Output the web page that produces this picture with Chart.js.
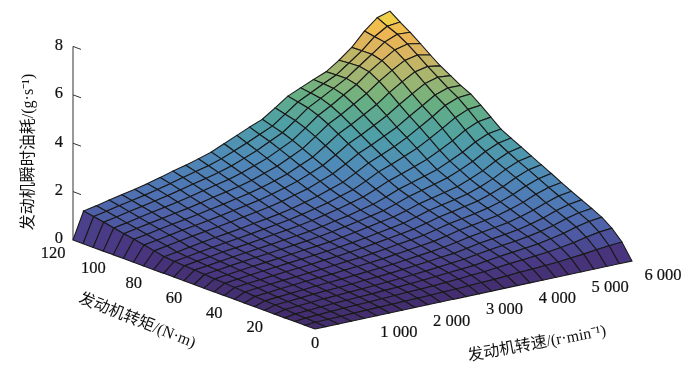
<!DOCTYPE html>
<html>
<head>
<meta charset="utf-8">
<style>
html,body{margin:0;padding:0;background:#fff}
#wrap{width:700px;height:373px}
</style>
<script src="https://cdn.jsdelivr.net/npm/chart.js@4"></script>
</head>
<body>
<div id="wrap"><canvas id="myChart" width="700" height="373"></canvas></div>
<script>
const speeds = [0,200,442,683,925,1167,1408,1650,1892,2133,2375,2617,2858,3100,3342,3583,3825,4067,4308,4550,4792,5033,5275,5517,5758,6000];
const torques = [0,5,10,15,20,25,30,35,40,45,50,55,60,65,70,75,80,85,90,95,100,105,110,115,120];
// fuel rate, one row per torque
const fuel = [
[0,0,0,0,0,0,0,0,0,0,0,0,0,0,0,0,0,0,0,0,0,0,0,0,0,0],
[0,.03,.04,.05,.07,.08,.09,.10,.11,.12,.13,.15,.16,.18,.20,.22,.25,.29,.31,.34,.37,.42,.47,.54,.59,.63],
[0,.05,.07,.10,.12,.14,.15,.17,.19,.21,.23,.25,.28,.31,.35,.38,.43,.49,.53,.58,.63,.70,.79,.90,1.00,1.05],
[0,.07,.10,.13,.16,.18,.20,.22,.25,.27,.30,.33,.37,.41,.45,.49,.56,.63,.69,.75,.81,.91,1.02,1.17,1.29,1.35],
[0,.10,.13,.16,.20,.22,.25,.27,.30,.33,.36,.40,.44,.49,.54,.59,.67,.75,.82,.88,.96,1.06,1.19,1.36,1.49,1.56],
[0,.13,.16,.20,.24,.27,.29,.32,.36,.39,.42,.47,.52,.57,.63,.68,.77,.87,.94,1.01,1.09,1.21,1.35,1.54,1.68,1.76],
[0,.15,.19,.23,.27,.31,.34,.37,.41,.45,.49,.53,.59,.65,.71,.78,.87,.98,1.06,1.14,1.23,1.36,1.52,1.71,1.88,1.96],
[0,.18,.22,.27,.31,.35,.39,.42,.47,.51,.55,.60,.67,.73,.80,.87,.98,1.10,1.19,1.28,1.37,1.52,1.69,1.91,2.08,2.17],
[0,.21,.26,.30,.35,.39,.43,.47,.52,.57,.61,.67,.74,.82,.89,.97,1.09,1.22,1.31,1.41,1.52,1.67,1.86,2.10,2.29,2.39],
[0,.24,.29,.34,.39,.44,.48,.52,.58,.62,.68,.74,.82,.90,.98,1.07,1.20,1.34,1.44,1.55,1.66,1.83,2.03,2.29,2.50,2.60],
[0,.26,.32,.38,.43,.48,.53,.58,.63,.68,.74,.81,.89,.98,1.07,1.16,1.30,1.46,1.57,1.68,1.80,1.98,2.20,2.48,2.70,2.81],
[0,.29,.35,.41,.47,.52,.57,.63,.69,.74,.80,.88,.97,1.07,1.17,1.26,1.41,1.58,1.70,1.82,1.95,2.15,2.38,2.67,2.91,3.03],
[0,.32,.38,.45,.51,.57,.62,.68,.74,.80,.87,.95,1.05,1.15,1.26,1.37,1.54,1.73,1.87,2.01,2.16,2.37,2.61,2.91,3.14,3.24],
[0,.35,.41,.48,.55,.61,.67,.73,.80,.86,.93,1.02,1.13,1.23,1.36,1.48,1.67,1.88,2.03,2.19,2.35,2.59,2.84,3.15,3.38,3.46],
[0,.37,.45,.52,.60,.66,.72,.79,.87,.94,1.02,1.11,1.23,1.35,1.49,1.63,1.84,2.07,2.24,2.43,2.62,2.88,3.16,3.49,3.72,3.80],
[0,.40,.48,.56,.64,.72,.78,.86,.94,1.02,1.10,1.21,1.33,1.46,1.62,1.78,2.02,2.29,2.48,2.70,2.92,3.21,3.52,3.85,4.08,4.14],
[0,.44,.52,.61,.70,.78,.85,.93,1.02,1.10,1.19,1.30,1.44,1.58,1.76,1.93,2.21,2.50,2.72,2.95,3.21,3.53,3.85,4.20,4.41,4.45],
[0,.53,.62,.71,.80,.88,.96,1.04,1.14,1.23,1.32,1.44,1.59,1.73,1.93,2.13,2.42,2.74,2.97,3.23,3.49,3.83,4.15,4.48,4.66,4.65],
[0,.62,.70,.80,.89,.97,1.06,1.15,1.25,1.35,1.45,1.58,1.73,1.89,2.10,2.32,2.64,2.99,3.24,3.52,3.81,4.16,4.49,4.80,4.95,4.90],
[0,.70,.79,.89,.98,1.07,1.16,1.26,1.36,1.47,1.58,1.71,1.87,2.04,2.28,2.51,2.87,3.24,3.51,3.81,4.12,4.50,4.83,5.13,5.24,5.15],
[0,.78,.88,.98,1.07,1.17,1.26,1.37,1.49,1.60,1.71,1.85,2.03,2.21,2.46,2.71,3.09,3.49,3.77,4.09,4.42,4.81,5.15,5.45,5.56,5.45],
[0,.86,.96,1.07,1.17,1.27,1.37,1.48,1.61,1.73,1.85,2.00,2.19,2.38,2.64,2.90,3.29,3.70,3.99,4.32,4.64,5.05,5.40,5.73,5.86,5.77],
[0,.95,1.05,1.16,1.26,1.37,1.48,1.60,1.73,1.85,1.98,2.14,2.34,2.55,2.81,3.06,3.45,3.86,4.14,4.44,4.74,5.13,5.51,5.90,6.11,6.08],
[0,1.03,1.13,1.25,1.35,1.46,1.58,1.71,1.85,1.98,2.11,2.28,2.49,2.71,2.95,3.18,3.56,3.95,4.21,4.48,4.73,5.11,5.50,5.97,6.29,6.35],
[0,1.10,1.21,1.33,1.44,1.55,1.67,1.81,1.96,2.09,2.24,2.41,2.64,2.87,3.10,3.31,3.67,4.04,4.27,4.50,4.71,5.07,5.49,6.05,6.49,6.65]
];
const fuelTicks = [0,2,4,6,8];
const torqueTicks = [20,40,60,80,100,120];
const speedTicks = [1000,2000,3000,4000,5000,6000];
const speedTickLabels = ['1 000','2 000','3 000','4 000','5 000','6 000'];
const colorLevels = [0,.4,1.0,1.6,2.4,3.3,4.2,5.0,5.6,6.1,6.65];
const colorStops = [[66,44,108],[74,56,132],[78,92,165],[79,118,181],[79,140,184],[78,160,165],[104,176,130],[168,182,110],[216,180,96],[240,182,82],[238,220,68]];

// view of the 3d box flattened onto the x/y scales
function project(s,t,z){
  return {
    x: 315 + 317*s/6000 - 242*t/120,
    y: 329 - 68*s/6000 - 89*t/120 - 24.2*z
  };
}
function colorFor(z){
  let k = 0;
  while(k < colorLevels.length-2 && z > colorLevels[k+1]) k++;
  const f = Math.min(1,(z-colorLevels[k])/(colorLevels[k+1]-colorLevels[k]));
  const c = colorStops[k].map((v,n)=>Math.round(v+(colorStops[k+1][n]-v)*f));
  return `rgb(${c[0]},${c[1]},${c[2]})`;
}

const datasets = [];
// nearest cell first: chart.js paints the last dataset first
for(let j=0;j<torques.length-1;j++){
  for(let i=0;i<speeds.length-1;i++){
    const a = fuel[j][i], b = fuel[j][i+1], c = fuel[j+1][i+1], d = fuel[j+1][i];
    datasets.push({
      data:[
        project(speeds[i],torques[j],a),
        project(speeds[i+1],torques[j],b),
        project(speeds[i+1],torques[j+1],c),
        project(speeds[i],torques[j+1],d),
        project(speeds[i],torques[j],a)
      ],
      cellColor: colorFor((a+b+c+d)/4),
      borderColor:'#1a1a1a',
      borderWidth:1.1,
      showLine:true,
      pointRadius:0,
      clip:false
    });
  }
}
// fuel axis, stands at the far left corner
const axisFoot = project(0,120,0), axisTop = project(0,120,8);
datasets.push({data:[axisFoot,axisTop],borderColor:'#333',borderWidth:1,showLine:true,pointRadius:0,clip:false});
fuelTicks.slice(1).forEach(v=>{
  const p = project(0,120,v);
  datasets.push({data:[p,{x:p.x+8,y:p.y+3}],borderColor:'#333',borderWidth:1,showLine:true,pointRadius:0,clip:false});
});

const surfacePlugin = {
  id:'surface',
  beforeDatasetDraw(chart,args){
    const ds = chart.data.datasets[args.index];
    if(!ds.cellColor) return;
    const pts = args.meta.data, ctx = chart.ctx;
    ctx.save();
    ctx.beginPath();
    pts.forEach((p,n)=>{ n ? ctx.lineTo(p.x,p.y) : ctx.moveTo(p.x,p.y); });
    ctx.closePath();
    ctx.fillStyle = ds.cellColor;
    ctx.fill();
    ctx.restore();
  }
};

const labelPlugin = {
  id:'boxLabels',
  afterDraw(chart){
    const ctx = chart.ctx, sx = chart.scales.x, sy = chart.scales.y;
    const px = p => ({x:sx.getPixelForValue(p.x),y:sy.getPixelForValue(p.y)});
    const put = (text,x,y) => { ctx.fillText(text,x,y); ctx.strokeText(text,x,y); };
    ctx.save();
    ctx.fillStyle = '#111';
    ctx.strokeStyle = '#111';
    ctx.lineWidth = .2;
    ctx.textBaseline = 'middle';
    ctx.font = '16.5px "Liberation Serif"';
    ctx.textAlign = 'right';
    fuelTicks.forEach(v=>{
      const p = px(project(0,120,v));
      put(String(v),p.x-10,p.y-1);
    });
    ctx.textAlign = 'center';
    torqueTicks.forEach(v=>{
      const p = px(project(0,v,0));
      put(String(v),p.x-20,p.y+14);
    });
    const o = px(project(0,0,0));
    put('0',o.x,o.y+15);
    speedTicks.forEach((v,n)=>{
      const p = px(project(v,0,0));
      put(speedTickLabels[n],p.x+31,p.y+15);
    });
    const title = (text,x,y,deg) => {
      ctx.save();
      ctx.translate(x,y);
      ctx.rotate(deg*Math.PI/180);
      ctx.font = '16px "Liberation Serif","Noto Sans CJK SC"';
      ctx.fillText(text,0,0);
      ctx.restore();
    };
    title('发动机瞬时油耗/(g·s⁻¹)',29,152,-90);
    title('发动机转矩/(N·m)',137,321,21.7);
    title('发动机转速/(r·min⁻¹)',537,344,-10.5);
    ctx.restore();
  }
};

const chart = new Chart(document.getElementById('myChart').getContext('2d'),{
  type:'scatter',
  data:{datasets},
  options:{
    responsive:false,
    animation:false,
    events:[],
    layout:{padding:0},
    plugins:{legend:{display:false},tooltip:{enabled:false}},
    scales:{
      x:{type:'linear',display:false,min:0,max:700},
      y:{type:'linear',display:false,min:0,max:373,reverse:true}
    }
  },
  plugins:[surfacePlugin,labelPlugin]
});
</script>
</body>
</html>
